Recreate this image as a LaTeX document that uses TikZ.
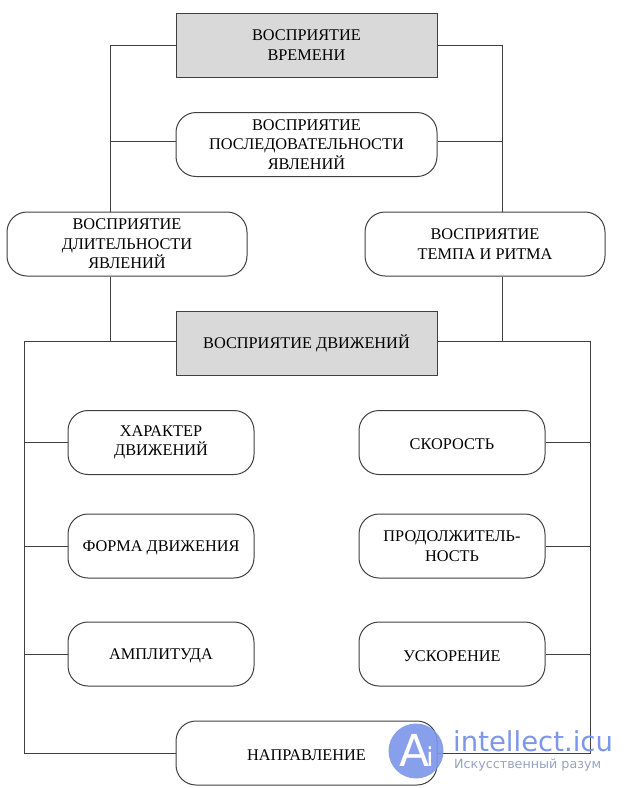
\documentclass[tikz,border=0pt]{standalone}
\usepackage{fontspec}
\setmainfont{Liberation Serif}
\newfontfamily\wmfont{DejaVu Sans}
\definecolor{wmblue}{RGB}{124,150,234}
\definecolor{wmgray}{RGB}{150,162,198}
\tikzset{
	pale/.style={draw=black!75,line width=1pt,minimum height=64pt,align=center,inner sep=0pt,font=\fontsize{16.3}{19.6}\selectfont,execute at begin node={\rule{0pt}{15pt}}},
	mainbox/.style={pale,fill=black!15,minimum width=261pt},
	oval/.style={pale,fill=white,rounded corners=20pt},
	link/.style={draw=black!75,line width=1pt}
}
\begin{document}
\begin{tikzpicture}[x=1pt,y=-1pt]
	\useasboundingbox (0,0) rectangle (624,788);
	% boxes
	\node[mainbox] (vremya) at (306.5,45) {ВОСПРИЯТИЕ\\ВРЕМЕНИ};
	\node[oval,minimum width=261pt] (posled) at (306.5,144.5) {ВОСПРИЯТИЕ\\ПОСЛЕДОВАТЕЛЬНОСТИ\\ЯВЛЕНИЙ};
	\node[oval,minimum width=240pt] (dlit) at (127,244) {ВОСПРИЯТИЕ\\ДЛИТЕЛЬНОСТИ\\ЯВЛЕНИЙ};
	\node[oval,minimum width=240pt] (temp) at (485,244) {ВОСПРИЯТИЕ\\ТЕМПА И РИТМА};
	\node[mainbox] (dvizh) at (306.5,343) {ВОСПРИЯТИЕ ДВИЖЕНИЙ};
	
	\node[oval,minimum width=186pt] (harakter) at (161,442.5) {ХАРАКТЕР\\ДВИЖЕНИЙ};
	\node[oval,minimum width=186pt] (forma) at (161,546) {ФОРМА ДВИЖЕНИЯ};
	\node[oval,minimum width=186pt] (ampl) at (161,654) {АМПЛИТУДА};
	\node[oval,minimum width=186pt] (skor) at (452,442.5) {СКОРОСТЬ};
	\node[oval,minimum width=186pt] (prod) at (452,546) {ПРОДОЛЖИТЕЛЬ-\\НОСТЬ};
	\node[oval,minimum width=186pt] (uskor) at (452,654) {УСКОРЕНИЕ};
	\node[oval,minimum width=261pt] (napr) at (306.5,753) {НАПРАВЛЕНИЕ};
	
	% junctions
	\coordinate (topl) at (110,45);
	\coordinate (topr) at (502,45);
	\coordinate (midl) at (110,141);
	\coordinate (midr) at (502,141);
	\coordinate (busl) at (24,341);
	\coordinate (busr) at (590,341);
	\coordinate (lowl) at (24,753);
	\coordinate (lowr) at (590,753);
	
	% time part
	\draw[link] (vremya.west) -- (topl) -- (topl |- dlit.north);
	\draw[link] (vremya.east) -- (topr) -- (topr |- temp.north);
	\draw[link] (midl) -- (midl -| posled.west);
	\draw[link] (midr) -- (midr -| posled.east);
	\draw[link] (topl |- dlit.south) -- (topl |- busl);
	\draw[link] (topr |- temp.south) -- (topr |- busr);
	
	% motion part
	\draw[link] (dvizh.west |- busl) -- (busl) -- (lowl) -- (napr.west);
	\draw[link] (dvizh.east |- busr) -- (busr) -- (lowr) -- (napr.east);
	\draw[link] (harakter.west) -- (harakter.west -| busl);
	\draw[link] (forma.west) -- (forma.west -| busl);
	\draw[link] (ampl.west) -- (ampl.west -| busl);
	\draw[link] (skor.east) -- (skor.east -| busr);
	\draw[link] (prod.east) -- (prod.east -| busr);
	\draw[link] (uskor.east) -- (uskor.east -| busr);
	
	% site mark
	\fill[wmblue,opacity=0.9] (416,751) circle[radius=27.5];
	\node[text=white,font=\wmfont\fontsize{44}{44}\selectfont,inner sep=0pt,anchor=base west] (markA) at (399,766) {A\kern-3pt{\fontsize{26}{26}\selectfont i}};
	\node[anchor=base west,inner sep=0pt,text=wmblue,font=\wmfont\fontsize{27.5}{27.5}\selectfont] (site) at (453,751) {intellect.icu};
	\node[anchor=west,inner sep=0pt,text=wmgray,font=\wmfont\fontsize{12.7}{13}\selectfont] (slogan) at (454,765) {Искусственный разум};
\end{tikzpicture}
\end{document}
